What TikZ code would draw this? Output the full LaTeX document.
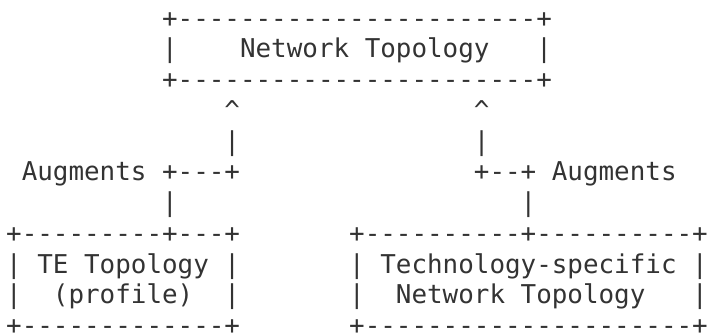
\documentclass[tikz,border=0pt]{standalone}
\usepackage{fontspec}
\setmonofont{DejaVu Sans Mono}
\definecolor{ink}{HTML}{333333}
\newcommand\asc[4]{\node[ascii] (#1) at ({6.2+15.59*#3},{3.75-30.75*#2}) {#4};}
\begin{document}
\begin{tikzpicture}[x=1pt,y=1pt,
  ascii/.style={anchor=base west,inner sep=0pt,outer sep=0pt,text=ink,
    font=\ttfamily\fontsize{25.9}{31}\selectfont}]
\useasboundingbox (0,0) rectangle (708,-335);
% Network Topology box
\asc{ntTop}{1}{10}{+-----------------------+}
\asc{ntL}{2}{10}{|}
\asc{ntText}{2}{15}{Network Topology}
\asc{ntR}{2}{34}{|}
\asc{ntBot}{3}{10}{+-----------------------+}
% left connector
\asc{lArrow}{4}{14}{\textasciicircum}
\asc{lBar}{5}{14}{|}
\asc{lLabel}{6}{1}{Augments}
\asc{lJoin}{6}{10}{+---+}
\asc{lBarLow}{7}{10}{|}
% right connector
\asc{rArrow}{4}{30}{\textasciicircum}
\asc{rBar}{5}{30}{|}
\asc{rJoin}{6}{30}{+--+}
\asc{rLabel}{6}{35}{Augments}
\asc{rBarLow}{7}{33}{|}
% TE Topology box
\asc{teTop}{8}{0}{+---------+---+}
\asc{teL1}{9}{0}{|}
\asc{teText1}{9}{2}{TE Topology}
\asc{teR1}{9}{14}{|}
\asc{teL2}{10}{0}{|}
\asc{teText2}{10}{3}{(profile)}
\asc{teR2}{10}{14}{|}
\asc{teBot}{11}{0}{+-------------+}
% Technology-specific box
\asc{tsTop}{8}{22}{+----------+----------+}
\asc{tsL1}{9}{22}{|}
\asc{tsText1}{9}{24}{Technology-specific}
\asc{tsR1}{9}{44}{|}
\asc{tsL2}{10}{22}{|}
\asc{tsText2}{10}{25}{Network Topology}
\asc{tsR2}{10}{44}{|}
\asc{tsBot}{11}{22}{+---------------------+}
\end{tikzpicture}
\end{document}
